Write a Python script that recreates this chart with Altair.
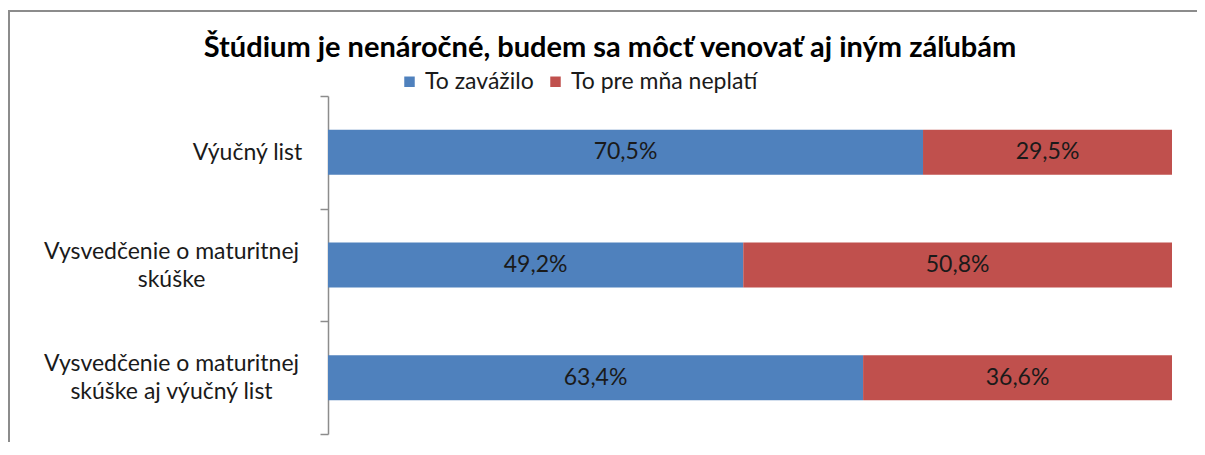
import altair as alt
import pandas as pd

categories = ["Výučný list", "Vysvedčenie o maturitnej skúške", "Vysvedčenie o maturitnej skúške aj výučný list"]
label_lines = [["Výučný list"], ["Vysvedčenie o maturitnej", "skúške"], ["Vysvedčenie o maturitnej", "skúške aj výučný list"]]
series = ["To zavážilo", "To pre mňa neplatí"]
zavazilo = [70.5, 49.2, 63.4]
neplati = [29.5, 50.8, 36.6]
colors = ["#4F81BD", "#C0504D"]

rows = []
for i, c in enumerate(categories):
    rows.append({"cat": c, "series": series[0], "order": 0, "pct": zavazilo[i]})
    rows.append({"cat": c, "series": series[1], "order": 1, "pct": neplati[i]})
df = pd.DataFrame(rows)

FONT = "Lato"
FS = 23
W, H = 844, 338

label_expr_parts = []
for c, lines in zip(categories, label_lines):
    arr = "[" + ",".join("'" + l + "'" for l in lines) + "]"
    label_expr_parts.append(f"datum.value == '{c}' ? {arr}")
label_expr = " : ".join(label_expr_parts) + " : datum.label"

base = alt.Chart(df).transform_stack(
    stack="pct", groupby=["cat"], as_=["x0", "x1"], sort=[alt.SortField("order", "ascending")]
).transform_calculate(
    mid="(datum.x0 + datum.x1) / 2",
    txt="replace(format(datum.pct, '.1f'), '.', ',') + '%'"
)

single = "datum.value == 'Výučný list'"
y_enc = alt.Y(
    "cat:N", sort=categories, title=None,
    scale=alt.Scale(paddingInner=0, paddingOuter=0),
    axis=alt.Axis(
        labelExpr=label_expr, tickBand="extent", tickSize=8, tickColor="#8c8c8c",
        domainColor="#8c8c8c", domainWidth=1.5, tickWidth=1.5,
        labelAlign="center", labelBaseline="middle", labelLimit=400,
        labelPadding={"condition": {"test": single, "value": 73}, "value": 149},
        labelOffset={"condition": {"test": single, "value": 0}, "value": -14},
        labelFont=FONT, labelFontSize=FS, labelColor="#1a1a1a", labelLineHeight=28,
    ),
)

bars = base.mark_bar(height={"band": 0.4}).encode(
    y=y_enc,
    x=alt.X("x0:Q", scale=alt.Scale(domain=[0, 100]), axis=None),
    x2="x1:Q",
    color=alt.Color(
        "series:N", sort=series,
        scale=alt.Scale(domain=series, range=colors),
        legend=alt.Legend(
            title=None, orient="none", legendX=70, legendY=-26, direction="horizontal",
            symbolType="square", symbolSize=110, symbolStrokeWidth=0, labelFont=FONT,
            labelFontSize=FS, labelColor="#1a1a1a", columnPadding=10, symbolOffset=0,
            labelLimit=400,
        ),
    ),
    order=alt.Order("order:Q"),
)

texts = base.mark_text(font=FONT, fontSize=FS, color="#1a1a1a").encode(
    y=alt.Y("cat:N", sort=categories),
    x=alt.X("mid:Q", scale=alt.Scale(domain=[0, 100])),
    text="txt:N",
)

one = pd.DataFrame({"a": [0]})
frame_top = alt.Chart(one).mark_rule(stroke="#8c8c8c", strokeWidth=2, clip=False).encode(
    x=alt.value(-319), x2=alt.value(W + 25), y=alt.value(-85)
)
frame_left = alt.Chart(one).mark_rule(stroke="#8c8c8c", strokeWidth=2, clip=False).encode(
    x=alt.value(-319), y=alt.value(-86), y2=alt.value(H + 40)
)

chart = alt.layer(frame_top, frame_left, bars, texts).properties(
    width=W, height=H,
    title=alt.TitleParams(
        "Štúdium je nenáročné, budem sa môcť venovať aj iným záľubám",
        anchor="middle", frame="group", dx=-140, offset=-54, font=FONT, fontSize=29,
        fontWeight="bold", color="#000000",
    ),
    padding={"left": 320, "top": 88, "right": 25, "bottom": 8},
    autosize=alt.AutoSizeParams(type="none"),
).configure_view(stroke=None)

chart.save("out.html", embed_options={"renderer": "svg", "actions": False})
